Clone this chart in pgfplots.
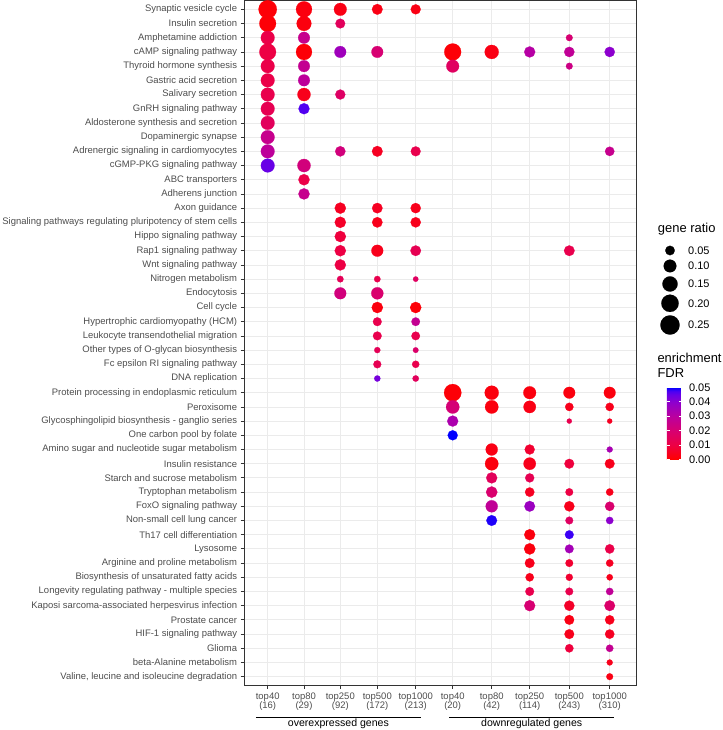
\documentclass[border=0pt]{standalone}
\usepackage{fontspec}
\setmainfont{Liberation Sans}
\usepackage{pgfplots}
\usepackage{pgfplotstable}
\pgfplotsset{compat=1.18}

\definecolor{grey20}{HTML}{333333}
\definecolor{grey30}{HTML}{4D4D4D}
\definecolor{gridgrey}{HTML}{EBEBEB}

% red -> blue, interpolated in Lab like ggplot
\pgfplotsset{colormap={fdr}{rgb255(0cm)=(255,0,0) rgb255(4cm)=(237,0,68) rgb255(8cm)=(215,0,114)
  rgb255(10cm)=(201,0,136) rgb255(12cm)=(186,0,159) rgb255(16cm)=(141,0,206)
  rgb255(18cm)=(104,0,230) rgb255(19cm)=(75,0,243) rgb255(20cm)=(0,0,255)}}

% row: 1 = top pathway; x: column position; r: gene ratio; f: enrichment FDR
\pgfplotstableread{
row x r f
1 267.7 0.225 0.001
1 304.0 0.169 0.002
1 340.3 0.101 0.003
1 377.3 0.067 0.003
1 415.7 0.057 0.003
2 267.7 0.185 0.001
2 304.0 0.140 0.002
2 340.3 0.053 0.015
3 267.7 0.120 0.011
3 304.0 0.083 0.026
3 569.3 0.018 0.020
4 267.7 0.185 0.010
4 304.0 0.169 0.001
4 340.3 0.083 0.036
4 377.3 0.083 0.020
4 452.7 0.190 0.001
4 491.7 0.126 0.003
4 529.7 0.072 0.031
4 569.3 0.061 0.028
4 609.7 0.061 0.040
5 267.7 0.120 0.011
5 304.0 0.083 0.027
5 452.7 0.101 0.016
5 569.3 0.018 0.024
6 267.7 0.120 0.011
6 304.0 0.083 0.029
7 267.7 0.120 0.012
7 304.0 0.108 0.004
7 340.3 0.057 0.017
8 267.7 0.120 0.013
8 304.0 0.072 0.047
9 267.7 0.120 0.015
10 267.7 0.120 0.026
11 267.7 0.120 0.029
11 340.3 0.061 0.022
11 377.3 0.067 0.005
11 415.7 0.055 0.012
11 609.7 0.048 0.026
12 267.7 0.120 0.045
12 304.0 0.110 0.022
13 304.0 0.075 0.011
14 304.0 0.075 0.026
15 340.3 0.075 0.005
15 377.3 0.063 0.005
15 415.7 0.060 0.004
16 340.3 0.075 0.006
16 377.3 0.063 0.004
16 415.7 0.060 0.004
17 340.3 0.075 0.009
18 340.3 0.075 0.010
18 377.3 0.085 0.004
18 415.7 0.065 0.013
18 569.3 0.065 0.012
19 340.3 0.075 0.010
20 340.3 0.016 0.014
20 377.3 0.015 0.012
20 415.7 0.006 0.016
21 340.3 0.085 0.022
21 377.3 0.090 0.019
22 377.3 0.075 0.002
22 415.7 0.075 0.001
23 377.3 0.040 0.012
23 415.7 0.038 0.027
24 377.3 0.040 0.012
24 415.7 0.038 0.012
25 377.3 0.012 0.014
25 415.7 0.008 0.018
26 377.3 0.030 0.013
26 415.7 0.023 0.012
27 377.3 0.013 0.043
27 415.7 0.014 0.015
28 452.7 0.200 0.001
28 491.7 0.126 0.002
28 529.7 0.101 0.002
28 569.3 0.083 0.002
28 609.7 0.083 0.002
29 452.7 0.112 0.021
29 491.7 0.112 0.002
29 529.7 0.094 0.003
29 569.3 0.035 0.004
29 609.7 0.035 0.004
30 452.7 0.072 0.033
30 569.3 0.004 0.012
30 609.7 0.004 0.005
31 452.7 0.057 0.051
32 491.7 0.089 0.003
32 529.7 0.057 0.007
32 609.7 0.011 0.034
33 491.7 0.112 0.002
33 529.7 0.094 0.004
33 569.3 0.053 0.009
33 609.7 0.053 0.004
34 491.7 0.072 0.015
34 529.7 0.044 0.013
35 491.7 0.077 0.019
35 529.7 0.048 0.005
35 569.3 0.028 0.010
35 609.7 0.024 0.004
36 491.7 0.089 0.028
36 529.7 0.067 0.037
36 569.3 0.061 0.004
36 609.7 0.048 0.019
37 491.7 0.067 0.049
37 569.3 0.028 0.016
37 609.7 0.024 0.040
38 529.7 0.072 0.002
38 569.3 0.040 0.048
39 529.7 0.077 0.002
39 569.3 0.040 0.035
39 609.7 0.048 0.011
40 529.7 0.053 0.004
40 569.3 0.028 0.007
40 609.7 0.024 0.005
41 529.7 0.035 0.004
41 569.3 0.021 0.007
41 609.7 0.014 0.004
42 529.7 0.040 0.012
42 569.3 0.028 0.012
42 609.7 0.024 0.028
43 529.7 0.072 0.020
43 569.3 0.061 0.006
43 609.7 0.067 0.018
44 569.3 0.053 0.003
44 609.7 0.048 0.004
45 569.3 0.053 0.004
45 609.7 0.048 0.005
46 569.3 0.035 0.009
46 609.7 0.024 0.027
47 609.7 0.011 0.004
48 609.7 0.018 0.003
}\enrich

\pgfplotstableread{
x y r
670 479.5 0.05
670 464.0 0.10
670 446.0 0.15
670 426.7 0.20
670 405.0 0.25
}\sizekey

\begin{document}
\begin{tikzpicture}
\useasboundingbox (-244.3bp,-44.8bp) rectangle (478.7bp,685.2bp);
\begin{axis}[
  at={(0,0)}, anchor=south west,
  scale only axis, width=392bp, height=684.8bp,
  xmin=244.3, xmax=636.3, ymin=0.4, ymax=48.63,
  clip=false,
  axis line style={grey20, line width=0.8bp},
  grid=major,
  major grid style={gridgrey, line width=0.8bp},
  tick align=outside, major tick length=3.7bp,
  tick style={grey20, line width=0.8bp},
  xtick pos=bottom, ytick pos=left,
  xtick={267.7,304.0,340.3,377.3,415.7,452.7,491.7,529.7,569.3,609.7},
  xticklabels={{top40\\(16)},{top80\\(29)},{top250\\(92)},{top500\\(172)},{top1000\\(213)},
    {top40\\(20)},{top80\\(42)},{top250\\(114)},{top500\\(243)},{top1000\\(310)}},
  xticklabel style={align=center, font=\fontsize{9.5}{10}\selectfont, text=grey30},
  ytick={1,...,48},
  yticklabels={
    {Valine, leucine and isoleucine degradation},
    beta-Alanine metabolism,
    Glioma,
    HIF-1 signaling pathway,
    Prostate cancer,
    Kaposi sarcoma-associated herpesvirus infection,
    Longevity regulating pathway - multiple species,
    Biosynthesis of unsaturated fatty acids,
    Arginine and proline metabolism,
    Lysosome,
    Th17 cell differentiation,
    Non-small cell lung cancer,
    FoxO signaling pathway,
    Tryptophan metabolism,
    Starch and sucrose metabolism,
    Insulin resistance,
    Amino sugar and nucleotide sugar metabolism,
    One carbon pool by folate,
    Glycosphingolipid biosynthesis - ganglio series,
    Peroxisome,
    Protein processing in endoplasmic reticulum,
    DNA replication,
    Fc epsilon RI signaling pathway,
    Other types of O-glycan biosynthesis,
    Leukocyte transendothelial migration,
    Hypertrophic cardiomyopathy (HCM),
    Cell cycle,
    Endocytosis,
    Nitrogen metabolism,
    Wnt signaling pathway,
    Rap1 signaling pathway,
    Hippo signaling pathway,
    Signaling pathways regulating pluripotency of stem cells,
    Axon guidance,
    Adherens junction,
    ABC transporters,
    cGMP-PKG signaling pathway,
    Adrenergic signaling in cardiomyocytes,
    Dopaminergic synapse,
    Aldosterone synthesis and secretion,
    GnRH signaling pathway,
    Salivary secretion,
    Gastric acid secretion,
    Thyroid hormone synthesis,
    cAMP signaling pathway,
    Amphetamine addiction,
    Insulin secretion,
    Synaptic vesicle cycle},
  yticklabel style={font=\fontsize{9.5}{10}\selectfont, text=grey30},
  colormap name=fdr,
  point meta min=0, point meta max=0.05,
  colorbar,
  colorbar style={
    at={(414bp,297.7bp)}, anchor=north west,
    scale only axis, width=15bp, height=71.8bp,
    axis line style={draw=none},
    scaled y ticks=false,
    ytick={0,0.01,0.02,0.03,0.04,0.05},
    yticklabels={0.00,0.01,0.02,0.03,0.04,0.05},
    yticklabel pos=right, ytick pos=both,
    tick align=inside, major tick length=3bp,
    tick style={white, line width=0.8bp},
    yticklabel style={font=\fontsize{11}{13}\selectfont, text=black, xshift=3.7bp},
  },
]
\addplot[scatter, only marks, mark=*,
  point meta=\thisrow{f},
  scatter/use mapped color={draw=mapped color, fill=mapped color},
  visualization depends on={sqrt(20+1400*\thisrow{r})/2 \as \dotr},
  scatter/@pre marker code/.append style={/tikz/mark size=\dotr},
  mark options={line width=0.2bp},
] table[x=x, y expr=49-\thisrow{row}] {\enrich};

\draw[black, line width=0.6bp] (axis cs:256,-1.86) -- (axis cs:420.7,-1.86);
\draw[black, line width=0.6bp] (axis cs:449.3,-1.86) -- (axis cs:614,-1.86);
\node[anchor=base, font=\fontsize{10.6}{12}\selectfont] at (axis cs:338.4,-2.53) {overexpressed genes};
\node[anchor=base, font=\fontsize{10.6}{12}\selectfont] at (axis cs:531.7,-2.53) {downregulated genes};
\end{axis}

% size key for gene ratio
\begin{axis}[
  at={(395.7bp,215.2bp)}, anchor=south west,
  scale only axis, width=83bp, height=250bp,
  xmin=640, xmax=723, ymin=260, ymax=510,
  hide axis, clip=false,
]
\addplot[scatter, only marks, mark=*,
  point meta=\thisrow{r},
  scatter/use mapped color={draw=black, fill=black},
  visualization depends on={sqrt(20+1400*\thisrow{r})/2 \as \dotr},
  scatter/@pre marker code/.append style={/tikz/mark size=\dotr},
  mark options={line width=0.2bp},
] table[x=x, y=y] {\sizekey};
\addplot[only marks, mark=none,
  point meta=\thisrow{r},
  nodes near coords={\pgfmathprintnumber[fixed, fixed zerofill, precision=2, assume math mode=true]{\pgfplotspointmeta}},
  every node near coord/.append style={anchor=west, xshift=18bp, inner sep=0pt,
    font=\fontsize{11}{13}\selectfont, text=black},
] table[x=x, y=y] {\sizekey};
\node[anchor=west, inner sep=0pt, font=\fontsize{13}{16}\selectfont] at (axis cs:657.7,500.7) {gene ratio};
\node[anchor=west, align=left, inner sep=0pt, font=\fontsize{13}{16}\selectfont] at (axis cs:657.3,364.7) {enrichment\\FDR};
\end{axis}
\end{tikzpicture}
\end{document}
